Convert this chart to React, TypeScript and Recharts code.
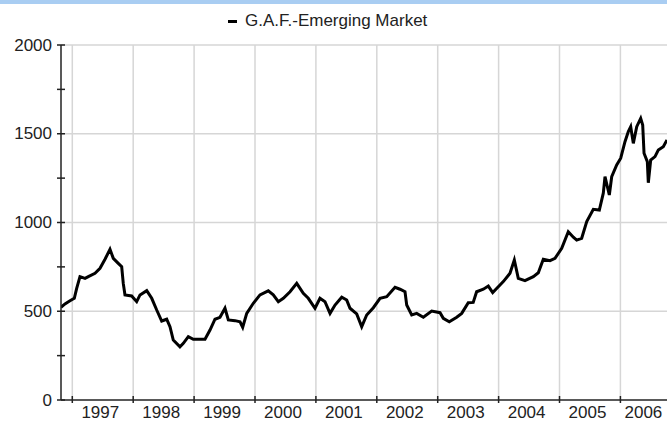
import { CartesianGrid, Line, LineChart, XAxis, YAxis } from "recharts";

// decimal year of each reading
const dates = [
  1996.814, 1996.88, 1996.962, 1997.033, 1997.072, 1997.126, 1997.209, 1997.263, 1997.373, 1997.455,
  1997.537, 1997.619, 1997.673, 1997.755, 1997.811, 1997.837, 1997.865, 1997.975, 1998.057, 1998.112,
  1998.222, 1998.304, 1998.386, 1998.468, 1998.55, 1998.604, 1998.658, 1998.768, 1998.823, 1998.905,
  1998.987, 1999.179, 1999.261, 1999.343, 1999.425, 1999.507, 1999.562, 1999.672, 1999.754, 1999.798,
  1999.864, 1999.972, 2000.082, 2000.218, 2000.3, 2000.383, 2000.465, 2000.575, 2000.685, 2000.793,
  2000.875, 2000.985, 2001.067, 2001.149, 2001.232, 2001.314, 2001.424, 2001.506, 2001.56, 2001.67,
  2001.752, 2001.834, 2001.943, 2002.053, 2002.163, 2002.299, 2002.381, 2002.463, 2002.491, 2002.573,
  2002.655, 2002.764, 2002.901, 2003.038, 2003.092, 2003.19, 2003.312, 2003.394, 2003.502, 2003.583,
  2003.639, 2003.749, 2003.831, 2003.903, 2003.995, 2004.077, 2004.187, 2004.258, 2004.323, 2004.433,
  2004.57, 2004.652, 2004.734, 2004.844, 2004.926, 2005.036, 2005.144, 2005.227, 2005.282, 2005.364,
  2005.447, 2005.555, 2005.654, 2005.719, 2005.747, 2005.818, 2005.857, 2005.939, 2006.005, 2006.075,
  2006.13, 2006.169, 2006.212, 2006.268, 2006.333, 2006.366, 2006.388, 2006.442, 2006.458, 2006.497,
  2006.568, 2006.622, 2006.704, 2006.765,
];

const gafEmerging = [
  522, 541, 559, 573, 629, 695, 685, 695, 714, 742,
  793, 849, 798, 770, 751, 657, 592, 586, 554, 592,
  616, 573, 507, 445, 455, 413, 338, 300, 319, 357,
  342, 342, 394, 455, 466, 517, 451, 447, 441, 410,
  488, 545, 592, 615, 592, 554, 573, 610, 657, 601,
  573, 517, 573, 554, 488, 535, 579, 563, 517, 485,
  413, 479, 520, 573, 582, 635, 624, 610, 535, 479,
  488, 466, 501, 492, 460, 441, 466, 488, 548, 550,
  610, 624, 642, 605, 638, 667, 714, 789, 685, 672,
  695, 717, 793, 785, 798, 855, 948, 917, 901, 911,
  1005, 1074, 1070, 1165, 1258, 1155, 1258, 1324, 1362, 1455,
  1512, 1540, 1446, 1540, 1587, 1549, 1390, 1343, 1224, 1352,
  1371, 1408, 1427, 1465,
];

const years = [1997, 1998, 1999, 2000, 2001, 2002, 2003, 2004, 2005, 2006];
const yTicks = [0, 250, 500, 750, 1000, 1250, 1500, 1750, 2000];
const yGrid = [500, 1000, 1500, 2000];
const seriesName = "G.A.F.-Emerging Market";

const data = dates.map((t, i) => ({ t, v: gafEmerging[i] }));

const font = "'Liberation Sans', Arial, sans-serif";

function YTick({ x, y, payload }: any) {
  const v = payload.value;
  return (
    <g>
      <line x1={x - 4} x2={x + 4} y1={y} y2={y} stroke="#222" strokeWidth={1.5} />
      {v % 500 === 0 && (
        <text x={x - 9} y={y} textAnchor="end" dominantBaseline="central" fontSize={17} fill="#222" fontFamily={font}>
          {v}
        </text>
      )}
    </g>
  );
}

function XTick({ x, y, payload }: any) {
  const v = payload.value;
  const off = v === 2006 ? 23 : 28;
  return (
    <g>
      <line x1={x} x2={x} y1={y - 4} y2={y + 3} stroke="#222" strokeWidth={1.5} />
      <text x={x + off} y={y + 18} textAnchor="middle" fontSize={17} fill="#222" fontFamily={font}>
        {v}
      </text>
    </g>
  );
}

export default function App() {
  return (
    <div style={{ position: "absolute", left: 0, top: 0, width: 667, height: 424, background: "#fff", overflow: "hidden" }}>
      <div style={{ position: "absolute", left: 0, top: 0, width: 667, height: 4, background: "#a9cdf2" }} />
      <div
        style={{
          position: "absolute",
          left: 228,
          top: 11,
          display: "flex",
          alignItems: "center",
          fontFamily: font,
          fontSize: 17,
          color: "#222",
          whiteSpace: "nowrap",
        }}
      >
        <span style={{ display: "inline-block", width: 9, height: 3, background: "#000", marginRight: 8 }} />
        {seriesName}
      </div>
      <LineChart width={667} height={424} data={data} margin={{ top: 45, right: 0, bottom: 0, left: 1 }}>
        <CartesianGrid
          stroke="#d6d6d6"
          strokeWidth={1.5}
          horizontalValues={yGrid}
          verticalValues={years}
        />
        <XAxis
          dataKey="t"
          type="number"
          domain={[1996.8145, 2006.765]}
          allowDataOverflow
          ticks={years}
          interval={0}
          height={24}
          tickSize={0}
          tickMargin={0}
          tickLine={false}
          tick={<XTick />}
          axisLine={{ stroke: "#222", strokeWidth: 1.5 }}
        />
        <YAxis
          type="number"
          domain={[0, 2000]}
          ticks={yTicks}
          interval={0}
          width={60}
          tickSize={0}
          tickMargin={0}
          tickLine={false}
          tick={<YTick />}
          axisLine={{ stroke: "#222", strokeWidth: 1.5 }}
        />
        <Line
          dataKey="v"
          name={seriesName}
          type="linear"
          stroke="#000"
          strokeWidth={3}
          dot={false}
          isAnimationActive={false}
        />
      </LineChart>
    </div>
  );
}
